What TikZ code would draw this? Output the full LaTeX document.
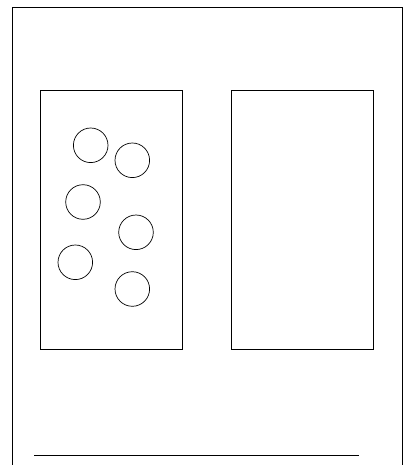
\documentclass[tikz,border=0pt]{standalone}
\usetikzlibrary{positioning}
\tikzset{
    tray/.style={
        rectangle,
        draw,
        minimum width=142pt,
        minimum height=259pt,
        inner sep=0pt
    },
    disc/.style={
        circle,
        draw,
        minimum size=34.6pt,
        inner sep=0pt
    }
}
\begin{document}
\begin{tikzpicture}[x=1pt, y=-1pt, line width=0.7pt]
    \useasboundingbox (0,0) rectangle (405,465);
    \clip (0,0) rectangle (405,465);
    % outer frame, cut off at the bottom
    \draw (12.5,7) rectangle (402,490);

    \node (lefttray) [tray] at (111.3,219.5) {};
    \node (righttray) [tray, right=48.5pt of lefttray] {};

    \node (disca) [disc] at (90.7,145.3) {};
    \node (discb) [disc] at (132.3,160.3) {};
    \node (discc) [disc] at (83,202) {};
    \node (discd) [disc] at (136,232.3) {};
    \node (disce) [disc] at (75.3,262.3) {};
    \node (discf) [disc] at (132.3,289) {};

    \coordinate (rulestart) at (34,455.3);
    \coordinate (ruleend) at (359,455.3);
    \draw (rulestart) -- (ruleend);
\end{tikzpicture}
\end{document}
